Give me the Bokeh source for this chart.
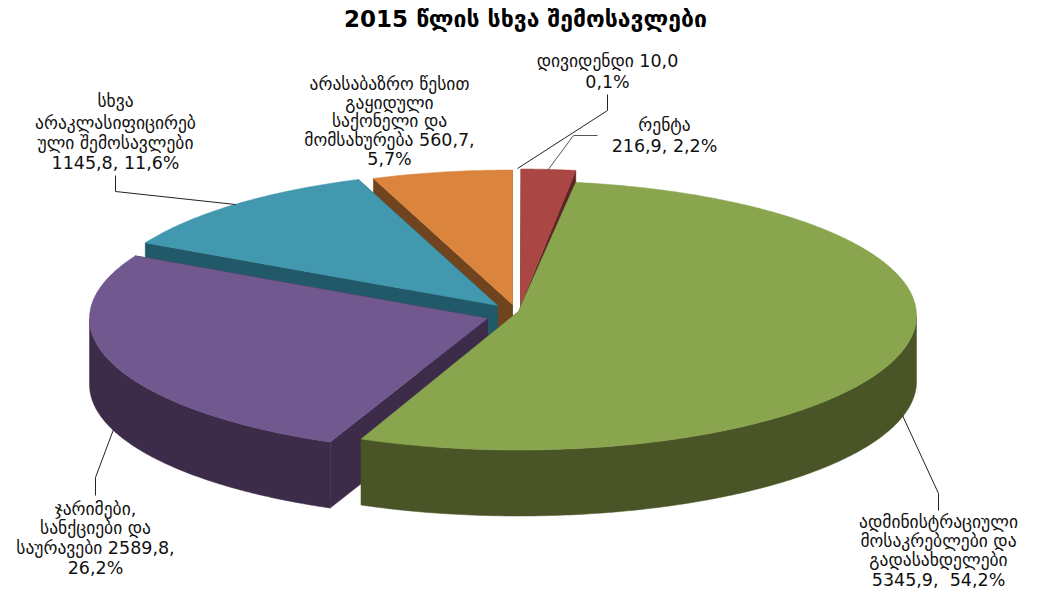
import numpy as np
from bokeh.plotting import figure
from bokeh.models import ColumnDataSource
from bokeh.core.properties import value
from bokeh.embed import file_html
from bokeh.resources import INLINE

# ---- data
title = "2015 წლის სხვა შემოსავლები"
categories = ["დივიდენდი", "რენტა", "ადმინისტრაციული მოსაკრებლები და გადასახდელები",
              "ჯარიმები, სანქციები და საურავები", "სხვა არაკლასიფიცირებული შემოსავლები",
              "არასაბაზრო წესით გაყიდული საქონელი და მომსახურება"]
values = [10.0, 216.9, 5345.9, 2589.8, 1145.8, 560.7]
label_lines = [
    ["დივიდენდი 10,0", "0,1%"],
    ["რენტა", "216,9, 2,2%"],
    ["ადმინისტრაციული", "მოსაკრებლები და", "გადასახდელები", "5345,9,\u00a0\u00a054,2%"],
    ["ჯარიმები,", "სანქციები და", "საურავები 2589,8,", "26,2%"],
    ["სხვა", "არაკლასიფიცირებ", "ული შემოსავლები", "1145,8, 11,6%"],
    ["არასაბაზრო წესით", "გაყიდული", "საქონელი და", "მომსახურება 560,7,", "5,7%"],
]

# ---- styling and layout
top_colors = ["#ffffff", "#AA4643", "#89A54E", "#71588F", "#4198AF", "#DB843D"]
wall_colors = ["#ffffff", "#5f2523", "#4a5527", "#3c2c4a", "#215968", "#6f441e"]
centers = [(515, 303), (518, 303), (518, 315), (487, 318), (497, 305), (512, 304)]
apex_shift = [(0, 0), (2, 2), (0, -4), (0, 0), (0, 0), (0, 0)]
RX, RY, DEPTH = 398.0, 134.5, 66.0
draw_order = [5, 4, 3, 0, 1, 2]
label_pos = [
    (607, [60, 81]),
    (664, [124, 145]),
    (938, [521, 540, 559, 579]),
    (95, [508, 527, 547, 567]),
    (115, [100, 122, 142, 162]),
    (389, [83, 102, 120, 139, 158]),
]
leaders = [
    ([607, 607, 517], [94, 110, 168], "#222222"),
    ([597, 573, 547], [135, 135, 170], "#555555"),
    ([938, 938, 902], [510, 493, 415], "#222222"),
    ([95, 95, 113], [495, 477, 429], "#222222"),
    ([115, 115, 235], [175, 191, 204], "#222222"),
]

p = figure(width=1037, height=593, x_range=(0, 1037), y_range=(593, 0),
           toolbar_location=None, output_backend="svg", min_border=0)
p.axis.visible = False
p.grid.visible = False
p.outline_line_color = None
p.background_fill_color = "white"
p.border_fill_color = "white"

total = sum(values)
edges = np.concatenate([[0.0], np.cumsum(values)]) / total * 2 * np.pi


def rim(i, a, z=0.0):
    cx, cy = centers[i]
    return cx + RX * np.sin(a), cy - RY * np.cos(a) + z


for i in draw_order:
    a0, a1 = edges[i], edges[i + 1]
    cx, cy = centers[i]
    acx, acy = cx + apex_shift[i][0], cy + apex_shift[i][1]
    wall = wall_colors[i]
    # radial cut faces
    for a in (a0, a1):
        rx_, ry_ = rim(i, a)
        p.patch([acx, rx_, rx_, acx], [acy, ry_, ry_ + DEPTH, acy + DEPTH],
                fill_color=wall, line_color=wall, line_width=0.5)
    # outer wall, front half only
    lo, hi = max(a0, np.pi / 2), min(a1, 3 * np.pi / 2)
    if hi > lo:
        t = np.linspace(lo, hi, 160)
        xs, ys = rim(i, t)
        p.patch(np.r_[xs, xs[::-1]], np.r_[ys, ys[::-1] + DEPTH],
                fill_color=wall, line_color=wall, line_width=0.5)
    # top face
    t = np.linspace(a0, a1, max(6, int((a1 - a0) * 120)))
    xs, ys = rim(i, t)
    p.patch(np.r_[acx, xs], np.r_[acy, ys],
            fill_color=top_colors[i], line_color=top_colors[i], line_width=0.5)

for xs, ys, c in leaders:
    p.line(xs, ys, line_color=c, line_width=1)

FONT = "DejaVu Sans"
tx, ty, tt = [], [], []
for lines, (lx, lys) in zip(label_lines, label_pos):
    for s, ly in zip(lines, lys):
        tx.append(lx); ty.append(ly); tt.append(s)
src = ColumnDataSource(dict(x=tx, y=ty, t=tt))
p.text("x", "y", text="t", source=src, text_font=value(FONT), text_font_size="17.5px",
       text_align="center", text_baseline="middle", text_color="#111111")
p.text([525], [18], text=[title], text_font=value(FONT), text_font_size="23px",
       text_font_style="bold", text_align="center", text_baseline="middle", text_color="#000000")

open("out.html", "w").write(file_html(p, INLINE))
